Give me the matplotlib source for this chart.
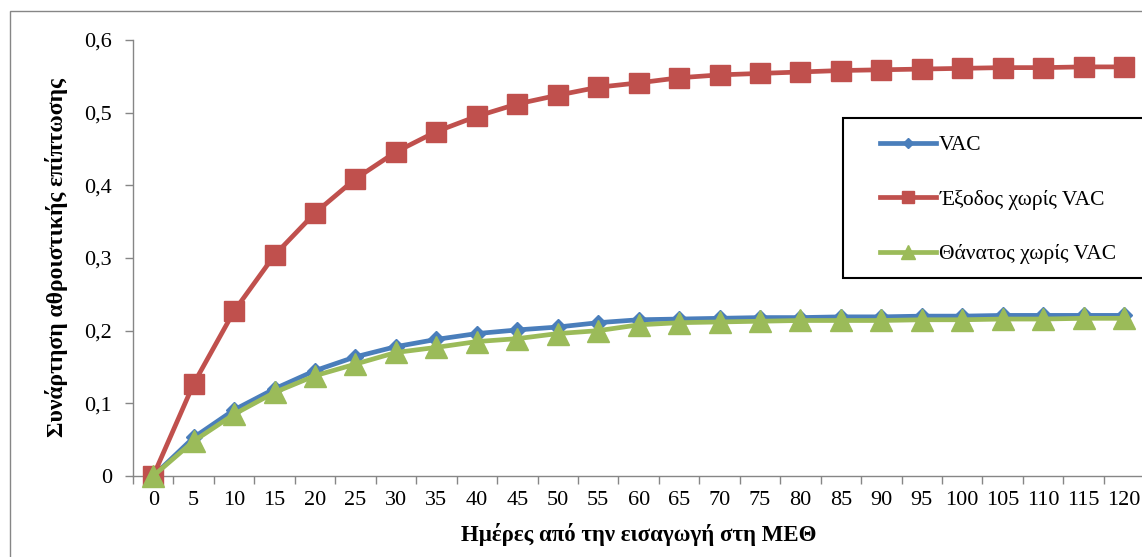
import matplotlib

matplotlib.use("Agg")
import matplotlib.pyplot as plt
from matplotlib.patches import Rectangle
import numpy as np

# cumulative incidence by day since ICU admission
DAYS = [0, 5, 10, 15, 20, 25, 30, 35, 40, 45, 50, 55, 60,
        65, 70, 75, 80, 85, 90, 95, 100, 105, 110, 115, 120]
VAC = [0, 0.053, 0.091, 0.120, 0.145, 0.164, 0.178, 0.188, 0.196, 0.201,
       0.205, 0.211, 0.215, 0.216, 0.217, 0.218, 0.218, 0.219, 0.219, 0.220,
       0.220, 0.221, 0.221, 0.221, 0.221]
EXIT_NO_VAC = [0, 0.127, 0.227, 0.304, 0.362, 0.409, 0.446, 0.474, 0.495,
               0.512, 0.524, 0.535, 0.541, 0.548, 0.552, 0.554, 0.556, 0.558,
               0.559, 0.560, 0.561, 0.562, 0.562, 0.563, 0.563]
DEATH_NO_VAC = [0, 0.048, 0.085, 0.115, 0.138, 0.154, 0.170, 0.177, 0.185,
                0.189, 0.196, 0.200, 0.208, 0.211, 0.212, 0.213, 0.214, 0.214,
                0.214, 0.215, 0.215, 0.216, 0.216, 0.217, 0.217]
Y_TICKS = [0, 0.1, 0.2, 0.3, 0.4, 0.5, 0.6]
Y_TICK_LABELS = ["0", "0,1", "0,2", "0,3", "0,4", "0,5", "0,6"]

BLUE = "#4a7ebb"
RED = "#c0504d"
GREEN = "#9bbb59"
AXIS_GRAY = "#868686"

plt.rcParams["font.family"] = ["Liberation Serif", "DejaVu Serif"]

W, H = 1142, 557
fig = plt.figure(figsize=(W / 100, H / 100), dpi=100)
fig.patch.set_facecolor("white")

# chart-area border (only top/left visible in the crop)
fig.patches.append(Rectangle((10 / W, -0.1), 1.2, 1 - 11 / H + 0.1,
                             transform=fig.transFigure, fill=False,
                             edgecolor=AXIS_GRAY, linewidth=1.0))

ax = fig.add_axes([133 / W, 1 - 476 / H, 1 - 133 / W + 0.002, 436 / H])
x = np.arange(len(DAYS))

ax.plot(x, VAC, color=BLUE, lw=3.4, marker="D", ms=8, mfc=BLUE, mec=BLUE,
        label="VAC", zorder=3, clip_on=False)
ax.plot(x, EXIT_NO_VAC, color=RED, lw=3.4, marker="s", ms=14, mfc=RED,
        mec=RED, label="Έξοδος χωρίς VAC", zorder=4, clip_on=False)
ax.plot(x, DEATH_NO_VAC, color=GREEN, lw=3.4, marker="^", ms=15.5, mfc=GREEN,
        mec=GREEN, label="Θάνατος χωρίς VAC", zorder=5, clip_on=False)

ax.set_xlim(-0.5, len(DAYS) - 0.5)
ax.set_ylim(0, 0.6)

ax.set_xticks(x)
ax.set_xticklabels([str(d) for d in DAYS], fontsize=16)
ax.set_xticks(np.arange(-0.5, len(DAYS), 1.0), minor=True)
ax.tick_params(axis="x", which="major", length=0, pad=11)
ax.tick_params(axis="x", which="minor", length=6, width=1, color=AXIS_GRAY,
               direction="out")

ax.set_yticks(Y_TICKS)
ax.set_yticklabels(Y_TICK_LABELS, fontsize=16)
ax.tick_params(axis="y", length=6, width=1, color=AXIS_GRAY, direction="out",
               pad=9)

for s in ("top", "right"):
    ax.spines[s].set_visible(False)
for s in ("left", "bottom"):
    ax.spines[s].set_color(AXIS_GRAY)
    ax.spines[s].set_linewidth(1.0)

ax.set_xlabel("Ημέρες από την εισαγωγή στη ΜΕΘ", fontsize=16.5,
              fontweight="bold", labelpad=9)
ax.set_ylabel("Συνάρτηση αθροιστικής επίπτωσης", fontsize=17,
              fontweight="bold", labelpad=12)

# legend box: its own rectangle, running off the right edge like the crop
ax.add_patch(Rectangle((843 / W, 1 - 278 / H), 1.0, 160 / H,
                       transform=fig.transFigure, facecolor="white",
                       edgecolor="black", linewidth=1.5, zorder=6,
                       clip_on=False))
leg = ax.legend(loc="upper left", bbox_to_anchor=(880 / W, 1 - 135 / H),
                bbox_transform=fig.transFigure, fontsize=15.5, frameon=False,
                handlelength=2.6, handletextpad=0.15, labelspacing=1.6,
                borderpad=0, borderaxespad=0, markerscale=0.65)
leg.set_zorder(10)

fig.savefig("out.png", dpi=100, facecolor="white")
